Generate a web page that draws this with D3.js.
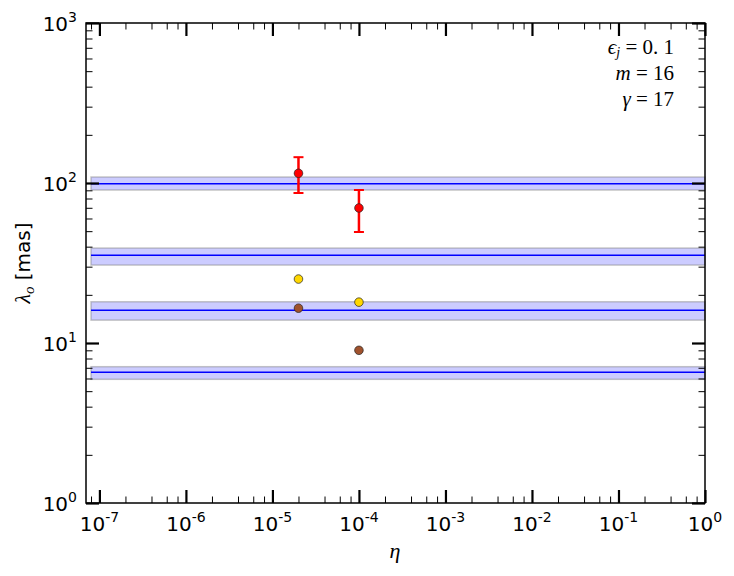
<!DOCTYPE html>
<html>
<head>
<meta charset="utf-8">
<script src="https://cdn.jsdelivr.net/npm/d3@7"></script>
<style>
  html, body { margin: 0; padding: 0; background: #fff; }
  svg { display: block; }
</style>
</head>
<body>
<svg id="chart" width="734" height="576" font-family="DejaVu Sans, sans-serif"></svg>
<script>
// ---- data ----
const xDomain = [7e-8, 1];
const yDomain = [1, 1000];
const xTickExps = [-7, -6, -5, -4, -3, -2, -1, 0];
const yTickExps = [0, 1, 2, 3];

// horizontal reference bands: center value, lower, upper
const bandCenters = [99, 35.3, 16.0, 6.56];
const bandLows    = [90.4, 30.7, 13.9, 5.93];
const bandHighs   = [109, 39.2, 18.1, 7.11];
const bandXStart = 8e-8;
const bandXEnd = 1;

// red points with error bars
const redEta   = [2e-5, 1e-4];
const redVal   = [115, 69.8];
const redLow   = [86.6, 49.4];
const redHigh  = [145, 90.4];

// yellow points
const yellowEta = [2e-5, 1e-4];
const yellowVal = [25.1, 18.0];

// brown points
const brownEta = [2e-5, 1e-4];
const brownVal = [16.5, 9.0];

const annotations = [
  {sym: "ϵ", sub: "j", rest: " = 0. 1"},
  {sym: "m", sub: "", rest: " = 16"},
  {sym: "γ", sub: "", rest: " = 17"}
];

// ---- layout ----
const svg = d3.select("#chart");
const L = 86, R = 705, T = 23, B = 503;
const SERIF = "'Liberation Serif', 'DejaVu Serif', serif";

const x = d3.scaleLog().domain(xDomain).range([L, R]);
const y = d3.scaleLog().domain(yDomain).range([B, T]);

// ---- bands ----
const bands = svg.append("g");
bandCenters.forEach((c, i) => {
  bands.append("rect")
    .attr("x", x(bandXStart))
    .attr("width", x(bandXEnd) - x(bandXStart))
    .attr("y", y(bandHighs[i]))
    .attr("height", y(bandLows[i]) - y(bandHighs[i]))
    .attr("fill", "rgba(0,0,255,0.2)")
    .attr("stroke", "rgba(128,128,128,0.45)")
    .attr("stroke-width", 1.5);
  bands.append("line")
    .attr("x1", x(bandXStart)).attr("x2", x(bandXEnd))
    .attr("y1", y(c)).attr("y2", y(c))
    .attr("stroke", "#0000ff").attr("stroke-width", 1.5);
});

// ---- axes with inward ticks on all four sides ----
const xMajor = xTickExps.map(e => Math.pow(10, e));
const xMinor = [];
for (let e = -8; e < 0; e++) [2, 4, 6, 8].forEach(m => {
  const v = m * Math.pow(10, e);
  if (v >= xDomain[0] && v <= xDomain[1]) xMinor.push(v);
});
const yMajor = yTickExps.map(e => Math.pow(10, e));
const yMinor = [];
for (let e = 0; e < 3; e++) [2,3,4,5,6,7,8,9].forEach(m => yMinor.push(m * Math.pow(10, e)));

const majLen = 13, minLen = 6.5;
const axG = svg.append("g");

function addAxis(axisFn, scale, vals, len, width, transform) {
  const a = axisFn(scale).tickValues(vals).tickSizeInner(-len).tickSizeOuter(0).tickFormat("");
  const g = axG.append("g").attr("transform", transform).call(a);
  g.select(".domain").remove();
  g.selectAll(".tick line").attr("stroke", "#000").attr("stroke-width", width);
  return g;
}
addAxis(d3.axisBottom, x, xMinor, minLen, 1, `translate(0,${B})`);
addAxis(d3.axisBottom, x, xMajor, majLen, 2.2, `translate(0,${B})`);
addAxis(d3.axisTop, x, xMinor, minLen, 1, `translate(0,${T})`);
addAxis(d3.axisTop, x, xMajor, majLen, 2.2, `translate(0,${T})`);
addAxis(d3.axisLeft, y, yMinor, minLen, 1, `translate(${L},0)`);
addAxis(d3.axisLeft, y, yMajor, majLen, 2.2, `translate(${L},0)`);
addAxis(d3.axisRight, y, yMinor, minLen, 1, `translate(${R},0)`);
addAxis(d3.axisRight, y, yMajor, majLen, 2.2, `translate(${R},0)`);

// frame
svg.append("rect")
  .attr("x", L).attr("y", T).attr("width", R - L).attr("height", B - T)
  .attr("fill", "none").attr("stroke", "#000").attr("stroke-width", 1.5);

// tick labels
const labG = svg.append("g").attr("fill", "#000");
xTickExps.forEach(e => {
  const t = labG.append("text")
    .attr("x", x(Math.pow(10, e)))
    .attr("y", 531)
    .attr("text-anchor", "middle")
    .style("font-family", "'DejaVu Sans', sans-serif")
    .attr("font-size", 20);
  t.append("tspan").text("10");
  t.append("tspan").attr("dy", -9).attr("font-size", 14).text(e < 0 ? "-" + (-e) : String(e));
});
yTickExps.forEach(e => {
  const t = labG.append("text")
    .attr("x", 77)
    .attr("y", y(Math.pow(10, e)) + 8)
    .attr("text-anchor", "end")
    .style("font-family", "'DejaVu Sans', sans-serif")
    .attr("font-size", 20);
  t.append("tspan").text("10");
  t.append("tspan").attr("dy", -9).attr("font-size", 14).text(String(e));
});

// axis titles
svg.append("text")
  .attr("x", 395).attr("y", 558)
  .attr("text-anchor", "middle")
  .style("font-family", SERIF)
  .style("font-style", "italic")
  .attr("font-size", 22)
  .text("η");

const yl = svg.append("text")
  .attr("transform", "translate(30,263) rotate(-90)")
  .attr("text-anchor", "middle")
  .style("font-family", "'DejaVu Sans', sans-serif")
  .attr("font-size", 20);
yl.append("tspan").style("font-family", SERIF).style("font-style", "italic").attr("font-size", 22).text("λ");
yl.append("tspan").style("font-family", SERIF).style("font-style", "italic")
  .attr("font-size", 15).attr("dy", 4).text("o");
yl.append("tspan").attr("dy", -4).text(" [mas]");

// annotations
annotations.forEach((a, i) => {
  const t = svg.append("text")
    .attr("x", 674).attr("y", 54 + i * 26)
    .attr("text-anchor", "end")
    .style("font-family", SERIF)
    .attr("font-size", 21);
  t.append("tspan").style("font-style", "italic").text(a.sym);
  if (a.sub) t.append("tspan").style("font-style", "italic").attr("font-size", 14).attr("dy", 3).text(a.sub);
  t.append("tspan").attr("dy", a.sub ? -3 : 0).text(a.rest);
});

// ---- points ----
const ptG = svg.append("g");
redEta.forEach((eta, i) => {
  const cx = x(eta);
  ptG.append("line").attr("x1", cx).attr("x2", cx)
    .attr("y1", y(redLow[i])).attr("y2", y(redHigh[i]))
    .attr("stroke", "#ff0000").attr("stroke-width", 2.5);
  [redLow[i], redHigh[i]].forEach(v => {
    ptG.append("line").attr("x1", cx - 5).attr("x2", cx + 5)
      .attr("y1", y(v)).attr("y2", y(v))
      .attr("stroke", "#ff0000").attr("stroke-width", 2);
  });
});
function dots(etas, vals, color) {
  etas.forEach((eta, i) => {
    ptG.append("circle").attr("cx", x(eta)).attr("cy", y(vals[i])).attr("r", 4.3)
      .attr("fill", color).attr("stroke", "#222").attr("stroke-width", 0.7);
  });
}
dots(redEta, redVal, "#ff0000");
dots(yellowEta, yellowVal, "#ffd700");
dots(brownEta, brownVal, "#a0522d");
</script>
</body>
</html>
